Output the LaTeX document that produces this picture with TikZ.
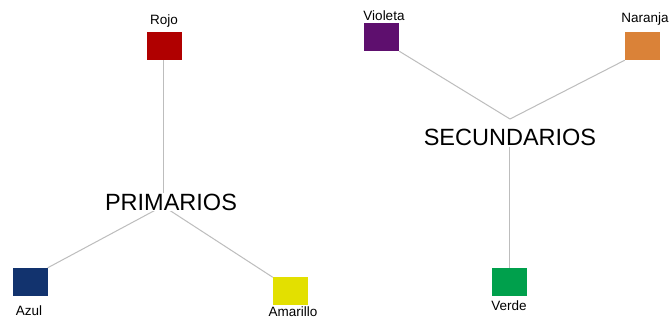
\documentclass[tikz,border=0pt]{standalone}
\usepackage{fontspec}
\setmainfont{Liberation Sans}
\definecolor{cRojo}{HTML}{B00000}
\definecolor{cAzul}{HTML}{12336E}
\definecolor{cAmarillo}{HTML}{E3E000}
\definecolor{cVioleta}{HTML}{5E0F6E}
\definecolor{cNaranja}{HTML}{DA8238}
\definecolor{cVerde}{HTML}{00A04C}
\definecolor{cLine}{HTML}{BDBDBD}
\begin{document}
\begin{tikzpicture}[x=1pt,y=-1pt,
  swatch/.style={minimum width=35pt,minimum height=28pt,inner sep=0pt,draw=none},
  lab/.style={inner sep=0pt,text=black,font=\fontsize{13.5}{15}\selectfont},
  big/.style={inner sep=1pt,fill=white,text=black,font=\fontsize{23.5}{26}\selectfont},
  conn/.style={draw=cLine,line width=1pt}]
\useasboundingbox (0,0) rectangle (672,320);
\fill[white] (0,0) rectangle (672,320);
% swatches
\node[swatch,fill=cRojo] (rojo) at (164.5,46) {};
\node[swatch,fill=cAzul] (azul) at (30,282) {};
\node[swatch,fill=cAmarillo] (amarillo) at (290.5,291.5) {};
\node[swatch,fill=cVioleta] (violeta) at (381.5,37) {};
\node[swatch,fill=cNaranja] (naranja) at (642.5,46) {};
\node[swatch,fill=cVerde] (verde) at (509.5,282) {};
% labels
\node[lab] (lrojo) at (164,21) {Rojo};
\node[lab] (lvioleta) at (384,16) {Violeta};
\node[lab] (lnaranja) at (645,19) {Naranja};
\node[lab] (lazul) at (29,311) {Azul};
\node[lab] (lamarillo) at (293,312) {Amarillo};
\node[lab] (lverde) at (509,306) {Verde};
% hubs
\coordinate (hub1) at (163,206);
\coordinate (hub2) at (510,119);
% connectors
\draw[conn] (rojo.south -| hub1) -- (hub1);
\draw[conn] (azul.north east) -- (hub1);
\draw[conn] (amarillo.north west) -- (hub1);
\draw[conn] (violeta.south east) -- (hub2);
\draw[conn] (naranja.south west) -- (hub2);
% titles
\node[big] (prim) at (171,202) {PRIMARIOS};
\node[big,fill=none] (secu) at (510,137) {SECUNDARIOS};
\draw[conn] (secu.south -| verde.north) -- (verde.north);
\end{tikzpicture}
\end{document}
